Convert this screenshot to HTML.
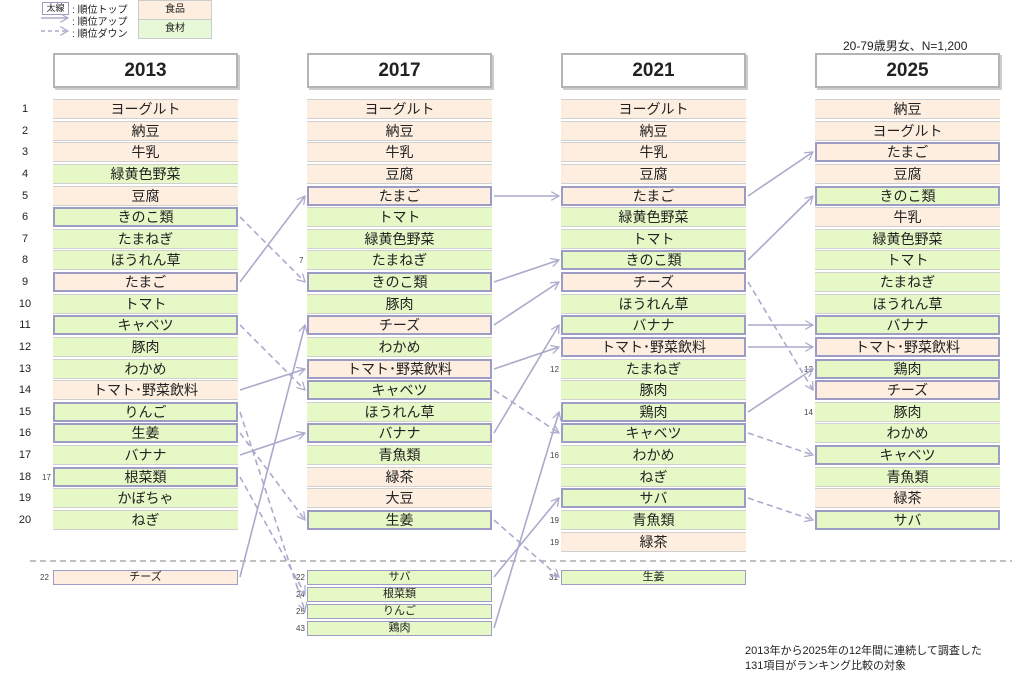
<!DOCTYPE html>
<html><head><meta charset="utf-8"><style>
body{margin:0;width:1024px;height:678px;background:#fff;position:relative;overflow:hidden;font-family:"Liberation Sans","Noto Sans CJK JP",sans-serif;color:#222}
.b{position:absolute;width:185px;height:20px;box-sizing:border-box;border-top:1px solid #d0d0d0;border-bottom:1px solid #d0d0d0;text-align:center;font-size:14px;line-height:18px}
.f{background:#fdeedf}.g{background:#e6f8c6}
.k{border:2px solid #9c9cc4;line-height:16px}
.s{height:15px;font-size:11px;line-height:13px}.s.k{line-height:11px}
.h{position:absolute;width:185px;height:35px;top:53px;box-sizing:border-box;border:2px solid #b4b4b4;box-shadow:2px 2px 0 #ccc;text-align:center;font-weight:bold;font-size:19px;line-height:31px}
.n{position:absolute;font-size:11px;width:20px;text-align:center;left:15px}
.m{position:absolute;font-size:8px;color:#444}
.t{position:absolute;font-size:11px}
</style></head><body>
<div style="position:absolute;left:42px;top:2px;width:25px;height:11px;border:1px solid #9c9cc4;font-size:9px;line-height:11px;text-align:center">太線</div>
<div class="t" style="left:72px;top:1px;font-size:10px">: 順位トップ</div>
<div class="t" style="left:72px;top:13px;font-size:10px">: 順位アップ</div>
<div class="t" style="left:72px;top:25px;font-size:10px">: 順位ダウン</div>
<div style="position:absolute;left:138px;top:0;width:72px;height:18px;background:#fdeedf;border:1px solid #ccc;font-size:10px;text-align:center;line-height:18px">食品</div>
<div style="position:absolute;left:138px;top:19px;width:72px;height:18px;background:#e6f8d8;border:1px solid #ccc;font-size:10px;text-align:center;line-height:18px">食材</div>
<div class="t" style="left:843px;top:37px;font-size:12px">20-79歳男女、N=1,200</div>
<div class="t" style="left:745px;top:642px">2013年から2025年の12年間に連続して調査した</div>
<div class="t" style="left:745px;top:657px">131項目がランキング比較の対象</div>

<div class="h" style="left:53px">2013</div><div class="h" style="left:307px">2017</div><div class="h" style="left:561px">2021</div><div class="h" style="left:815px">2025</div>

<div class="n" style="top:103px">1</div><div class="n" style="top:125px">2</div><div class="n" style="top:146px">3</div><div class="n" style="top:168px">4</div><div class="n" style="top:190px">5</div><div class="n" style="top:211px">6</div><div class="n" style="top:233px">7</div><div class="n" style="top:254px">8</div><div class="n" style="top:276px">9</div><div class="n" style="top:298px">10</div><div class="n" style="top:319px">11</div><div class="n" style="top:341px">12</div><div class="n" style="top:363px">13</div><div class="n" style="top:384px">14</div><div class="n" style="top:406px">15</div><div class="n" style="top:427px">16</div><div class="n" style="top:449px">17</div><div class="n" style="top:471px">18</div><div class="n" style="top:492px">19</div><div class="n" style="top:514px">20</div>

<!-- 2013 -->
<div class="b f" style="left:53px;top:99px">ヨーグルト</div>
<div class="b f" style="left:53px;top:121px">納豆</div>
<div class="b f" style="left:53px;top:142px">牛乳</div>
<div class="b g" style="left:53px;top:164px">緑黄色野菜</div>
<div class="b f" style="left:53px;top:186px">豆腐</div>
<div class="b g k" style="left:53px;top:207px">きのこ類</div>
<div class="b g" style="left:53px;top:229px">たまねぎ</div>
<div class="b g" style="left:53px;top:250px">ほうれん草</div>
<div class="b f k" style="left:53px;top:272px">たまご</div>
<div class="b g" style="left:53px;top:294px">トマト</div>
<div class="b g k" style="left:53px;top:315px">キャベツ</div>
<div class="b g" style="left:53px;top:337px">豚肉</div>
<div class="b g" style="left:53px;top:359px">わかめ</div>
<div class="b f" style="left:53px;top:380px">トマト･野菜飲料</div>
<div class="b g k" style="left:53px;top:402px">りんご</div>
<div class="b g k" style="left:53px;top:423px">生姜</div>
<div class="b g" style="left:53px;top:445px">バナナ</div>
<div class="b g k" style="left:53px;top:467px">根菜類</div>
<div class="b g" style="left:53px;top:488px">かぼちゃ</div>
<div class="b g" style="left:53px;top:510px">ねぎ</div>
<div class="m" style="left:42px;top:473px">17</div>
<div class="b f s" style="left:53px;top:570px;border:1px solid #9c9cc4">チーズ</div>
<div class="m" style="left:40px;top:573px">22</div>

<!-- 2017 -->
<div class="b f" style="left:307px;top:99px">ヨーグルト</div>
<div class="b f" style="left:307px;top:121px">納豆</div>
<div class="b f" style="left:307px;top:142px">牛乳</div>
<div class="b f" style="left:307px;top:164px">豆腐</div>
<div class="b f k" style="left:307px;top:186px">たまご</div>
<div class="b g" style="left:307px;top:207px">トマト</div>
<div class="b g" style="left:307px;top:229px">緑黄色野菜</div>
<div class="b g" style="left:307px;top:250px">たまねぎ</div>
<div class="b g k" style="left:307px;top:272px">きのこ類</div>
<div class="b g" style="left:307px;top:294px">豚肉</div>
<div class="b f k" style="left:307px;top:315px">チーズ</div>
<div class="b g" style="left:307px;top:337px">わかめ</div>
<div class="b f k" style="left:307px;top:359px">トマト･野菜飲料</div>
<div class="b g k" style="left:307px;top:380px">キャベツ</div>
<div class="b g" style="left:307px;top:402px">ほうれん草</div>
<div class="b g k" style="left:307px;top:423px">バナナ</div>
<div class="b g" style="left:307px;top:445px">青魚類</div>
<div class="b f" style="left:307px;top:467px">緑茶</div>
<div class="b f" style="left:307px;top:488px">大豆</div>
<div class="b g k" style="left:307px;top:510px">生姜</div>
<div class="m" style="left:299px;top:256px">7</div>
<div class="b g s" style="left:307px;top:570px;border:1px solid #9c9cc4">サバ</div>
<div class="b g s" style="left:307px;top:587px;border:1px solid #9c9cc4">根菜類</div>
<div class="b g s" style="left:307px;top:604px;border:1px solid #9c9cc4">りんご</div>
<div class="b g s" style="left:307px;top:621px;border:1px solid #9c9cc4">鶏肉</div>
<div class="m" style="left:296px;top:573px">22</div><div class="m" style="left:296px;top:590px">24</div><div class="m" style="left:296px;top:607px">25</div><div class="m" style="left:296px;top:624px">43</div>

<!-- 2021 -->
<div class="b f" style="left:561px;top:99px">ヨーグルト</div>
<div class="b f" style="left:561px;top:121px">納豆</div>
<div class="b f" style="left:561px;top:142px">牛乳</div>
<div class="b f" style="left:561px;top:164px">豆腐</div>
<div class="b f k" style="left:561px;top:186px">たまご</div>
<div class="b g" style="left:561px;top:207px">緑黄色野菜</div>
<div class="b g" style="left:561px;top:229px">トマト</div>
<div class="b g k" style="left:561px;top:250px">きのこ類</div>
<div class="b f k" style="left:561px;top:272px">チーズ</div>
<div class="b g" style="left:561px;top:294px">ほうれん草</div>
<div class="b g k" style="left:561px;top:315px">バナナ</div>
<div class="b f k" style="left:561px;top:337px">トマト･野菜飲料</div>
<div class="b g" style="left:561px;top:359px">たまねぎ</div>
<div class="b g" style="left:561px;top:380px">豚肉</div>
<div class="b g k" style="left:561px;top:402px">鶏肉</div>
<div class="b g k" style="left:561px;top:423px">キャベツ</div>
<div class="b g" style="left:561px;top:445px">わかめ</div>
<div class="b g" style="left:561px;top:467px">ねぎ</div>
<div class="b g k" style="left:561px;top:488px">サバ</div>
<div class="b g" style="left:561px;top:510px">青魚類</div>
<div class="b f" style="left:561px;top:532px">緑茶</div>
<div class="m" style="left:550px;top:365px">12</div><div class="m" style="left:550px;top:451px">16</div><div class="m" style="left:550px;top:516px">19</div><div class="m" style="left:550px;top:538px">19</div>
<div class="b g s" style="left:561px;top:570px;border:1px solid #9c9cc4">生姜</div>
<div class="m" style="left:549px;top:573px">31</div>

<!-- 2025 -->
<div class="b f" style="left:815px;top:99px">納豆</div>
<div class="b f" style="left:815px;top:121px">ヨーグルト</div>
<div class="b f k" style="left:815px;top:142px">たまご</div>
<div class="b f" style="left:815px;top:164px">豆腐</div>
<div class="b g k" style="left:815px;top:186px">きのこ類</div>
<div class="b f" style="left:815px;top:207px">牛乳</div>
<div class="b g" style="left:815px;top:229px">緑黄色野菜</div>
<div class="b g" style="left:815px;top:250px">トマト</div>
<div class="b g" style="left:815px;top:272px">たまねぎ</div>
<div class="b g" style="left:815px;top:294px">ほうれん草</div>
<div class="b g k" style="left:815px;top:315px">バナナ</div>
<div class="b f k" style="left:815px;top:337px">トマト･野菜飲料</div>
<div class="b g k" style="left:815px;top:359px">鶏肉</div>
<div class="b f k" style="left:815px;top:380px">チーズ</div>
<div class="b g" style="left:815px;top:402px">豚肉</div>
<div class="b g" style="left:815px;top:423px">わかめ</div>
<div class="b g k" style="left:815px;top:445px">キャベツ</div>
<div class="b g" style="left:815px;top:467px">青魚類</div>
<div class="b f" style="left:815px;top:488px">緑茶</div>
<div class="b g k" style="left:815px;top:510px">サバ</div>
<div class="m" style="left:804px;top:365px">12</div><div class="m" style="left:804px;top:408px">14</div>

<svg width="1024" height="678" style="position:absolute;left:0;top:0" fill="none" stroke="#aaaacc" stroke-width="1.6">
<defs><marker id="a" viewBox="0 0 10 10" refX="9" refY="5" markerWidth="9" markerHeight="9" orient="auto" markerUnits="userSpaceOnUse"><path d="M0,0 L9,5 L0,10" fill="none" stroke="#aaaacc" stroke-width="1.4"/></marker></defs>
<line x1="30" y1="561" x2="1012" y2="561" stroke="#aaa" stroke-dasharray="6,4"/>
<line x1="41" y1="18" x2="68" y2="18" marker-end="url(#a)"/>
<line x1="41" y1="31" x2="68" y2="31" stroke-dasharray="4,3" marker-end="url(#a)"/>
<g marker-end="url(#a)">
<line x1="240" y1="282" x2="305" y2="196"/>
<line x1="240" y1="390" x2="305" y2="369"/>
<line x1="240" y1="455" x2="305" y2="433"/>
<line x1="240" y1="577" x2="305" y2="325"/>
<line x1="494" y1="196" x2="559" y2="196"/>
<line x1="494" y1="282" x2="559" y2="260"/>
<line x1="494" y1="325" x2="559" y2="282"/>
<line x1="494" y1="369" x2="559" y2="347"/>
<line x1="494" y1="433" x2="559" y2="325"/>
<line x1="494" y1="577" x2="559" y2="498"/>
<line x1="494" y1="628" x2="559" y2="412"/>
<line x1="748" y1="196" x2="813" y2="152"/>
<line x1="748" y1="260" x2="813" y2="196"/>
<line x1="748" y1="325" x2="813" y2="325"/>
<line x1="748" y1="347" x2="813" y2="347"/>
<line x1="748" y1="412" x2="813" y2="369"/>
</g>
<g marker-end="url(#a)" stroke-dasharray="6,4">
<line x1="240" y1="217" x2="305" y2="282"/>
<line x1="240" y1="325" x2="305" y2="390"/>
<line x1="240" y1="412" x2="305" y2="611"/>
<line x1="240" y1="433" x2="305" y2="520"/>
<line x1="240" y1="477" x2="305" y2="594"/>
<line x1="494" y1="390" x2="559" y2="433"/>
<line x1="494" y1="520" x2="559" y2="577"/>
<line x1="748" y1="282" x2="813" y2="390"/>
<line x1="748" y1="433" x2="813" y2="455"/>
<line x1="748" y1="498" x2="813" y2="520"/>
</g>
</svg>
</body></html>
